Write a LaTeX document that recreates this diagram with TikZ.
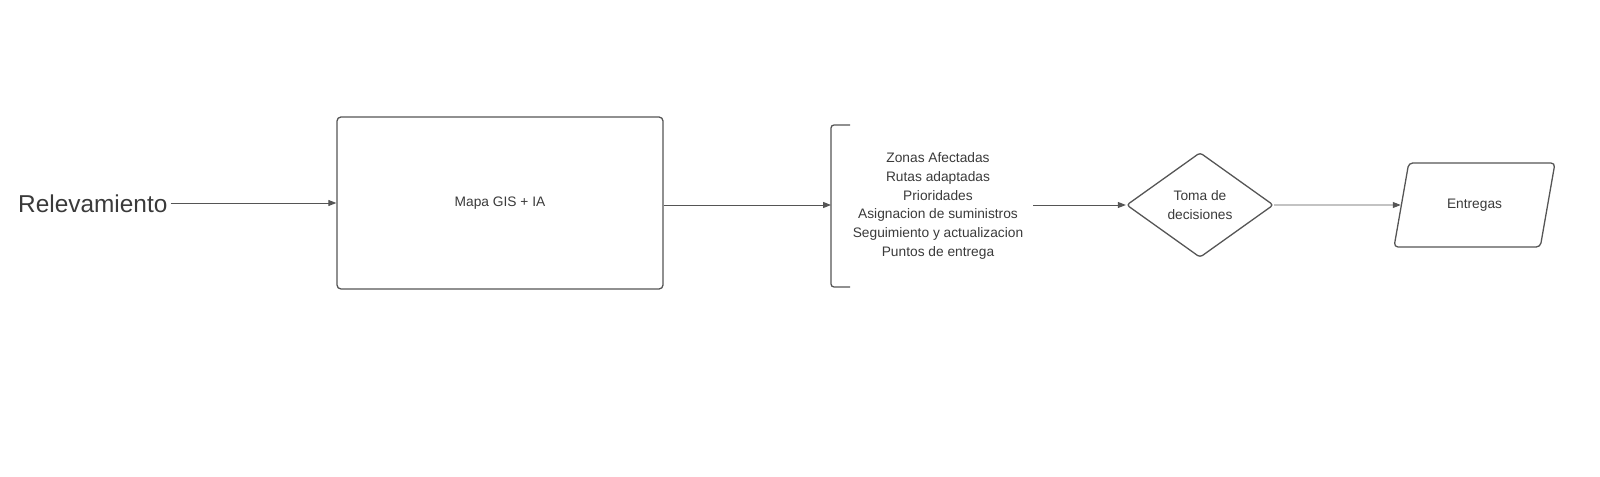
\documentclass[tikz,border=0pt]{standalone}
\usepackage{fontspec}
\setmainfont{Liberation Sans}
\usetikzlibrary{arrows.meta,shapes.geometric}
\definecolor{txt}{HTML}{3A3A3A}
\definecolor{ln}{HTML}{555555}
\begin{document}
\begin{tikzpicture}[x=1bp,y=-1bp,
  every node/.style={text=txt},
  shp/.style={draw=ln,line width=1.3pt,rounded corners=4pt},
  conn/.style={draw=ln,line width=1pt,-{Triangle[length=8pt,width=6pt]}},
  small/.style={font=\fontsize{13.8}{18.8}\selectfont}]
\useasboundingbox (0,0) rectangle (1600,477);
\node[anchor=west,inner sep=0pt,font=\fontsize{24.5}{28}\selectfont] (rel) at (18,204) {Relevamiento};
\node[shp,small,minimum width=326bp,minimum height=172bp] (map) at (500,203) {Mapa GIS + IA};
\node[small,align=center,inner sep=0pt] (list) at (938,206) {Zonas Afectadas\\Rutas adaptadas\\Prioridades\\Asignacion de suministros\\Seguimiento y actualizacion\\Puntos de entrega};
\coordinate (brk) at (831,205);
\draw[ln,line width=1.3pt,rounded corners=3pt] (850,125) -- (831,125) -- (831,287) -- (850,287);
\node[shp,diamond,rounded corners=3pt,minimum width=147bp,minimum height=105bp,align=center,inner sep=0pt,font=\fontsize{13.8}{19}\selectfont] (dec) at (1200,205) {Toma de\\decisiones};
\node[shp,small,trapezium,trapezium left angle=70,trapezium right angle=110,trapezium stretches=true,minimum width=161bp,minimum height=84bp] (ent) at (1474.5,205) {Entregas};
\draw[conn] (rel.east) ++(3,-1) -- (map.west);
\draw[conn] (map.east |- brk) -- (brk);
\draw[conn] (list.east |- dec.west) ++(10,0) -- (dec.west);
\draw[conn] (dec.east) -- (ent.west);
\end{tikzpicture}
\end{document}
